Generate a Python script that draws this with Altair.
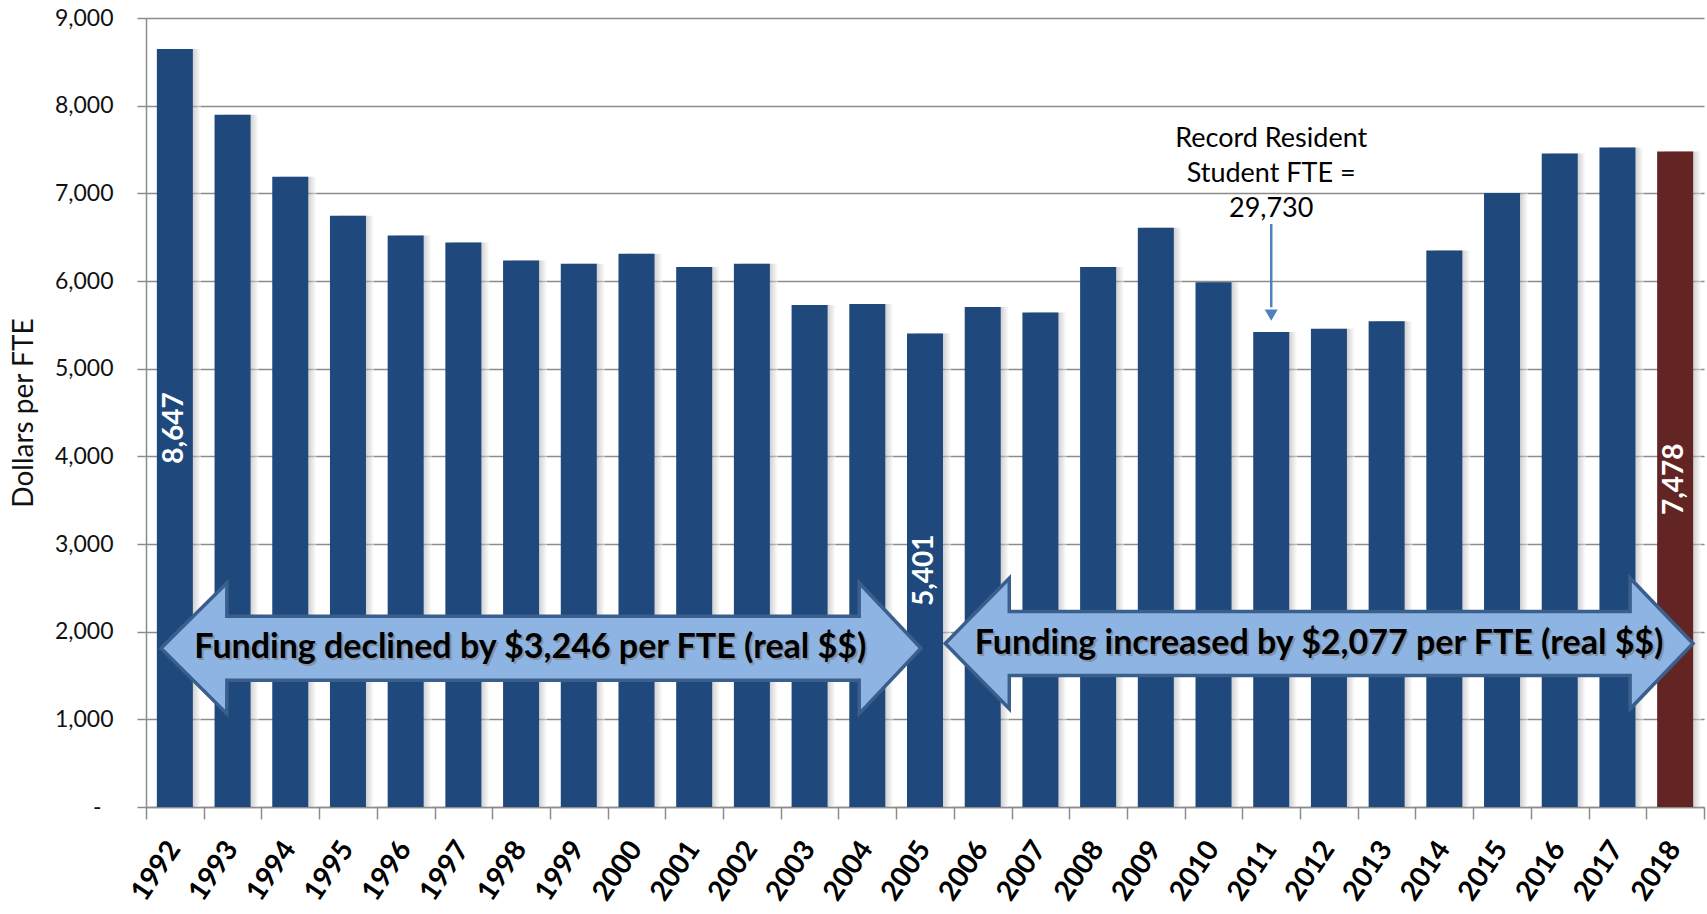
import altair as alt
import pandas as pd

# State funding per resident student FTE, real dollars
years = [str(y) for y in range(1992, 2019)]
dollars_per_fte = [
    8647, 7896, 7188, 6744, 6520, 6440, 6235, 6198, 6310, 6161,
    6198, 5727, 5739, 5401, 5702, 5640, 6160, 6607, 5987, 5417,
    5454, 5541, 6347, 7004, 7455, 7524, 7478,
]
labelled_years = ["1992", "2005", "2018"]
current_year = "2018"

y_ticks = list(range(0, 9001, 1000))

# Block-arrow callouts:
# (left tip, left head base, right head base, right tip, centre level, text centre, text)
arrow_specs = [
    (1991.76, 1992.90, 2003.86, 2004.93, 1810, 1998.16,
     "Funding declined by $3,246 per FTE (real $$)"),
    (2005.35, 2006.46, 2017.22, 2018.31, 1865, 2011.83,
     "Funding increased by $2,077 per FTE (real $$)"),
]
HEAD_HALF = 745
SHAFT_HALF = 365

note_year = "2011"
note_text = "Record Resident\nStudent FTE =\n29,730"
note_level = 7625
note_arrow_from = 6650
note_arrow_to = 5700
note_arrow_tip = 5610

BLUE = "#1F497D"
MAROON = "#632523"
GRID = "#8c8c8c"
FONT = "Lato"

df = pd.DataFrame({"year": years, "value": dollars_per_fte})

rows = []
for i, (xl, xb1, xb2, xr, c, _, _) in enumerate(arrow_specs):
    eps = 0.001
    pts = [
        (xl, c, c),
        (xb1, c + HEAD_HALF, c - HEAD_HALF),
        (xb1 + eps, c + SHAFT_HALF, c - SHAFT_HALF),
        (xb2 - eps, c + SHAFT_HALF, c - SHAFT_HALF),
        (xb2, c + HEAD_HALF, c - HEAD_HALF),
        (xr, c, c),
    ]
    for x, top, bot in pts:
        rows.append({"arrow": i, "x": x, "top": top, "bot": bot})
arrow_df = pd.DataFrame(rows)
arrow_text_df = pd.DataFrame({
    "x": [a[5] for a in arrow_specs],
    "y": [a[4] for a in arrow_specs],
    "text": [a[6] for a in arrow_specs],
})

y_scale = alt.Scale(domain=[0, 9000], nice=False, zero=True)
x_band = alt.Scale(domain=years, paddingInner=0.376, paddingOuter=0.188)

x_axis = alt.Axis(
    title=None, labelAngle=-56, labelAlign="right", labelBaseline="middle",
    labelFont=FONT, labelFontSize=28, labelFontWeight="bold", labelColor="#000",
    labelPadding=37, labelOffset=0, ticks=False,
    domainColor=GRID, domainWidth=1.5,
)
y_axis = alt.Axis(
    values=y_ticks,
    labelExpr="datum.value == 0 ? '-' : format(datum.value, ',')",
    labelFont=FONT, labelFontSize=23, labelColor="#111",
    labelPadding={"condition": {"test": "datum.value === 0", "value": 36}, "value": 24},
    grid=True, gridColor=GRID, gridWidth=1.5,
    domainColor=GRID, domainWidth=1.5,
    tickColor=GRID, tickWidth=1.5, tickSize=9,
    title="Dollars per FTE", titleFont=FONT, titleFontSize=28,
    titleFontWeight="normal", titleColor="#111", titlePadding=16,
)


def xb():
    return alt.X("year:N", scale=x_band, sort=years, axis=x_axis)


def yq(field):
    return alt.Y(field, type="quantitative", scale=y_scale, axis=y_axis)


shadow_fill = alt.Gradient(
    gradient="linear", x1=0, x2=1, y1=0, y2=0,
    stops=[
        alt.GradientStop(offset=0, color="#8a8a8a"),
        alt.GradientStop(offset=0.72, color="#8a8a8a"),
        alt.GradientStop(offset=1, color="#ffffff"),
    ],
)

shadows = alt.Chart(df).mark_bar(
    fill=shadow_fill, opacity=0.5, xOffset=8
).encode(x=xb(), y=yq("value"))

bars = alt.Chart(df).mark_bar().encode(
    x=xb(),
    y=yq("value"),
    color=alt.condition(
        alt.datum.year == current_year, alt.value(MAROON), alt.value(BLUE)
    ),
)

value_labels = alt.Chart(df).transform_filter(
    alt.FieldOneOfPredicate(field="year", oneOf=labelled_years)
).transform_calculate(
    mid="datum.value / 2"
).mark_text(
    angle=270, color="white", font=FONT, fontSize=28, fontWeight="bold",
    align="center", baseline="middle",
).encode(
    x=xb(),
    y=yq("mid"),
    text=alt.Text("value:Q", format=","),
)

note_df = pd.DataFrame({
    "year": [note_year], "level": [note_level], "text": [note_text],
    "start": [note_arrow_from], "end": [note_arrow_to], "tip": [note_arrow_tip],
})
note = alt.Chart(note_df).mark_text(
    font=FONT, fontSize=27, color="#000", lineBreak="\n", lineHeight=35,
    align="center", baseline="middle",
).encode(x=xb(), y=yq("level"), text="text:N")

note_line = alt.Chart(note_df).mark_rule(color="#4F81BD", strokeWidth=2.5).encode(
    x=xb(),
    y=yq("start"),
    y2="end:Q",
)
note_head = alt.Chart(note_df).mark_point(
    shape="triangle-down", filled=True, color="#4F81BD", size=170, opacity=1
).encode(x=xb(), y=yq("tip"))

bar_group = alt.layer(shadows, bars, value_labels, note, note_line, note_head)

# Continuous x over the same span, used for the callout arrows and the category tick marks
x_cont_axis = alt.Axis(
    orient="bottom", values=[1991.5 + i for i in range(28)], labels=False,
    domain=False, grid=False, ticks=True, tickSize=12, tickColor=GRID,
    tickWidth=1.5, title=None,
)
x_cont_scale = alt.Scale(domain=[1991.5, 2018.5], nice=False, zero=False)


def xc():
    return alt.X("x:Q", scale=x_cont_scale, axis=x_cont_axis)


arrows = alt.Chart(arrow_df).mark_area(
    fill="#8DB4E2", stroke="#3B5F8C", strokeWidth=3.5, opacity=1, interpolate="linear"
).encode(
    x=xc(),
    y=yq("top"),
    y2="bot:Q",
    detail="arrow:N",
)

arrow_text_shadow = alt.Chart(arrow_text_df).mark_text(
    font=FONT, fontSize=34, fontWeight="bold", color="#7a7a7a", opacity=0.6,
    dx=2, dy=2, align="center", baseline="middle",
).encode(x=xc(), y=yq("y"), text="text:N")

arrow_text = alt.Chart(arrow_text_df).mark_text(
    font=FONT, fontSize=34, fontWeight="bold", color="#000",
    align="center", baseline="middle",
).encode(x=xc(), y=yq("y"), text="text:N")

arrow_group = alt.layer(arrows, arrow_text_shadow, arrow_text)

chart = alt.layer(bar_group, arrow_group).resolve_scale(x="independent").properties(
    width=1558, height=789,
    autosize=alt.AutoSizeParams(type="none"),
    padding={"left": 146, "top": 18, "right": 3, "bottom": 107},
    background="white",
).configure_view(stroke=None)

chart.save("out.html", embed_options={"renderer": "svg", "actions": False})
